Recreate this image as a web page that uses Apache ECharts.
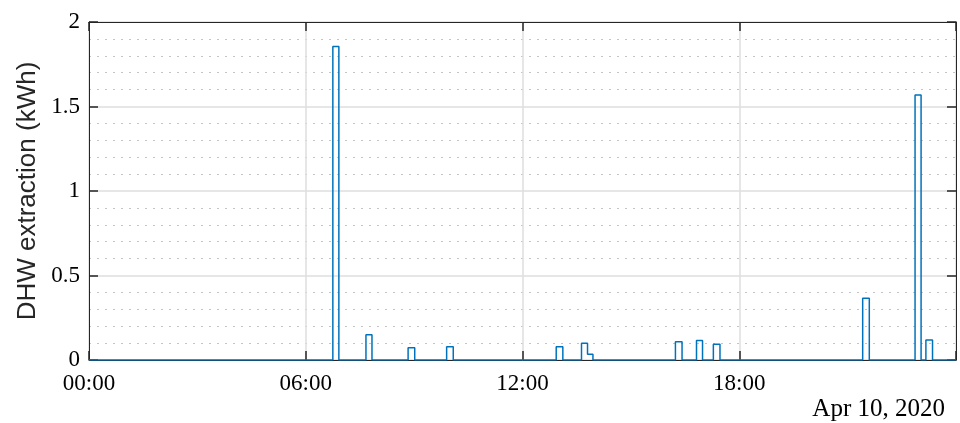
<!DOCTYPE html>
<html>
<head>
<meta charset="utf-8">
<script src="https://cdn.jsdelivr.net/npm/echarts@6/dist/echarts.min.js"></script>
<style>html,body{margin:0;padding:0;background:#fff}#c{width:960px;height:423px}</style>
</head>
<body>
<div id="c"></div>
<script>
// Stair breakpoints: time (minutes after midnight) and value held from that time on (kWh)
var stepTimesMin = [0, 405, 415, 460, 470, 530, 541, 594, 605, 776, 787, 818, 828, 837, 974, 985, 1009, 1019, 1037, 1048, 1285, 1296, 1372, 1382, 1390, 1401, 1440];
var stepValues   = [0, 1.855, 0, 0.15, 0, 0.073, 0, 0.079, 0, 0.079, 0, 0.099, 0.034, 0, 0.108, 0, 0.116, 0, 0.093, 0, 0.365, 0, 1.568, 0, 0.118, 0, 0];
var xTickLabels = ['00:00', '06:00', '12:00', '18:00'];
var yTickLabels = ['0', '0.5', '1', '1.5', '2'];
var dateLabel = 'Apr 10, 2020';
var yAxisTitle = 'DHW extraction (kWh)';

var data = stepTimesMin.map(function (t, i) { return [t / 60, stepValues[i]]; });
var serif = 'Liberation Serif';
var axisCol = '#262626';
var gridCol = '#dedede';

var chart = echarts.init(document.getElementById('c'), null, {renderer: 'canvas'});
chart.setOption({
  animation: false,
  grid: {left: 89, top: 22, right: 4, bottom: 63, containLabel: false},
  xAxis: [{
    type: 'value', min: 0, max: 24, interval: 6,
    axisLine: {show: true, onZero: false, lineStyle: {color: axisCol, width: 1}},
    axisTick: {show: true, inside: true, length: 9, lineStyle: {color: axisCol, width: 1.5}},
    axisLabel: {
      margin: 12, color: '#000', fontFamily: serif, fontSize: 23,
      formatter: function (v) { var i = Math.round(v / 6); return (Math.abs(v - i * 6) < 1e-6 && xTickLabels[i]) ? xTickLabels[i] : ''; }
    },
    splitLine: {show: true, lineStyle: {color: gridCol, width: 1.5}}
  }, {
    type: 'value', min: 0, max: 24, interval: 6, position: 'top',
    axisLine: {show: true, onZero: false, lineStyle: {color: axisCol, width: 1}},
    axisTick: {show: true, inside: true, length: 9, lineStyle: {color: axisCol, width: 1.5}},
    axisLabel: {show: false}, splitLine: {show: false}
  }],
  yAxis: [{
    type: 'value', min: 0, max: 2, interval: 0.5,
    name: yAxisTitle, nameLocation: 'middle', nameGap: 46,
    nameTextStyle: {fontFamily: 'Liberation Sans', fontSize: 26, color: axisCol},
    axisLine: {show: true, onZero: false, lineStyle: {color: axisCol, width: 1}},
    axisTick: {show: true, inside: true, length: 9, lineStyle: {color: axisCol, width: 1.5}},
    axisLabel: {
      margin: 9, color: '#000', fontFamily: serif, fontSize: 23,
      formatter: function (v) { var i = Math.round(v / 0.5); return (Math.abs(v - i * 0.5) < 1e-6 && yTickLabels[i]) ? yTickLabels[i] : ''; }
    },
    splitLine: {show: true, lineStyle: {color: gridCol, width: 1.5}},
    minorTick: {show: false, splitNumber: 5},
    minorSplitLine: {show: true, lineStyle: {color: '#c4c4c4', width: 1, type: [2, 6]}}
  }, {
    type: 'value', min: 0, max: 2, interval: 0.5, position: 'right',
    axisLine: {show: true, onZero: false, lineStyle: {color: axisCol, width: 1}},
    axisTick: {show: true, inside: true, length: 9, lineStyle: {color: axisCol, width: 1.5}},
    axisLabel: {show: false}, splitLine: {show: false}
  }],
  graphic: [{
    type: 'text', right: 15, top: 397,
    style: {text: dateLabel, font: '25px "Liberation Serif"', fill: '#000'}
  }],
  series: [{
    type: 'line', step: 'end', data: data, showSymbol: false, symbol: 'none',
    lineStyle: {color: '#0072BD', width: 1.5}, z: 5
  }]
});
</script>
</body>
</html>
